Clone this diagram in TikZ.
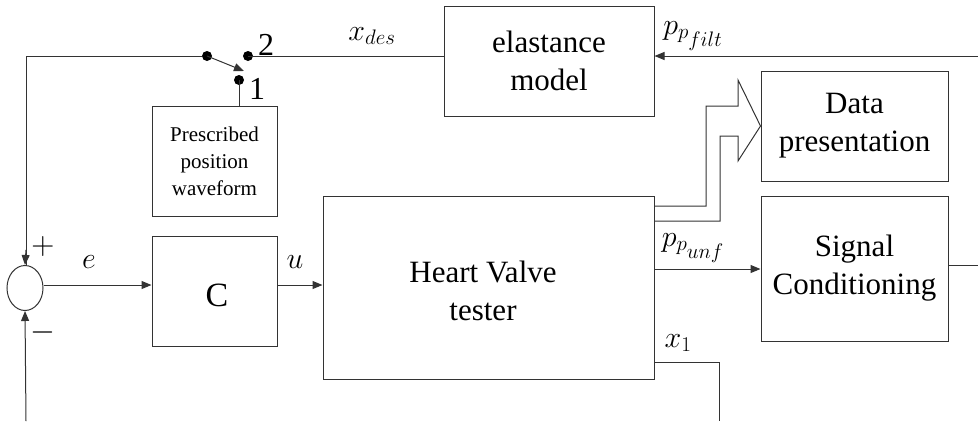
\RequirePackage{fix-cm}
\documentclass[tikz,border=0pt]{standalone}
\usepackage[no-math]{fontspec}
\setmainfont{Liberation Serif}
\usetikzlibrary{arrows.meta,shapes.geometric}
\begin{document}
\begin{tikzpicture}[x=1pt,y=-1pt,
  line width=1pt,
  ln/.style={draw=black!80},
  arr/.style={ln,-{Triangle[length=10pt,width=8pt]}},
  blk/.style={draw=black!80,line width=1pt,rectangle,inner sep=0pt,align=center,
     font=\fontsize{31}{38}\selectfont},
  small/.style={draw=black!80,line width=1pt,rectangle,inner sep=0pt,align=center,
     font=\fontsize{21}{27}\selectfont},
  lab/.style={inner sep=0pt,font=\fontsize{30}{36}\selectfont},
  sgn/.style={inner sep=0pt,font=\fontsize{32}{36}\selectfont},
  dot/.style={circle,fill=black,inner sep=0pt,minimum size=10pt}]
\useasboundingbox (0,0) rectangle (978,421);
% blocks
\node[blk,minimum width=210pt,minimum height=110pt] (el) at (549,61) {elastance\\model};
\node[blk,minimum width=187pt,minimum height=110pt] (dp) at (854.5,126) {Data\\presentation};
\node[blk,minimum width=187pt,minimum height=145pt] (sc) at (854.5,268.5) {Signal\\Conditioning};
\node[blk,minimum width=331pt,minimum height=183pt] (hv) at (488.5,287.5) {};
\node[lab,font=\fontsize{31}{38}\selectfont,align=center] (hvt) at (483,291) {Heart Valve\\tester};
\node[blk,minimum width=125pt,minimum height=110pt] (cb) at (214.5,291) {};
\node[lab,font=\fontsize{34}{38}\selectfont] (ct) at (217,295) {C};
\node[small,minimum width=125pt,minimum height=110pt] (pw) at (214.5,161) {Prescribed\\position\\waveform};
% sum
\node[draw=black!80,line width=1pt,ellipse,minimum width=36pt,minimum height=45pt,inner sep=0pt] (sum) at (25,288) {};
% switch
\node[dot] (s0) at (207,56) {};
\node[dot] (s2) at (248,56) {};
\node[dot] (s1) at (239,80) {};
\coordinate (st) at (244,71);
\coordinate (tl) at (26,56);
\coordinate (bl) at (26,421);
\coordinate (rin) at (978,56);
\coordinate (rout) at (978,265);
\coordinate (x1e) at (719,421);
% connectors
\draw[ln] (s0) -- (tl) -- (tl |- sum.north);
\draw[arr] (26,250) -- (sum.north);
\draw[arr] (bl) -- (sum.south);
\draw[arr] (s0.center) -- (st);
\draw[ln] (s2.center) -- (el.west |- s2);
\draw[ln] (s1.center) -- (s1 |- pw.north);
\draw[arr] (rin) -- (el.east |- rin);
\draw[arr] (sum.east |- 0,285) -- (cb.west |- 0,285);
\draw[arr] (cb.east |- 0,285) -- (hv.west |- 0,285);
\draw[arr] (hv.east |- 0,269) -- (sc.west |- 0,269);
\draw[ln] (sc.east |- rout) -- (rout);
\draw[ln] (hv.east |- 0,362) -- (719,362) -- (x1e);
% block arrow
\draw[ln,line join=miter] (hv.east |- 0,206) -- (706,206) -- (706,106) -- (738,106) -- (738,80)
   -- (dp.west) -- (738,161) -- (738,136) -- (720,136) -- (720,221) -- (hv.east |- 0,221);
% labels
\node[lab,font=\fontsize{32}{36}\selectfont] (l2) at (266,45) {2};
\node[lab,font=\fontsize{32}{36}\selectfont] (l1) at (257,89) {1};
\node[lab] (lxd) at (372,36) {$x_{des}$};
\node[lab] (lpf) at (693,36) {$p_{p_{\scriptstyle filt}}$};
\node[lab] (le) at (89,262) {$e$};
\node[lab] (lu) at (295,262) {$u$};
\node[lab] (lpu) at (693,248) {$p_{p_{\scriptstyle unf}}$};
\node[lab] (lx1) at (678,343) {$x_1$};
\node[sgn] (lp) at (43,246) {$+$};
\node[sgn] (lm) at (43,332) {$-$};
\end{tikzpicture}
\end{document}
